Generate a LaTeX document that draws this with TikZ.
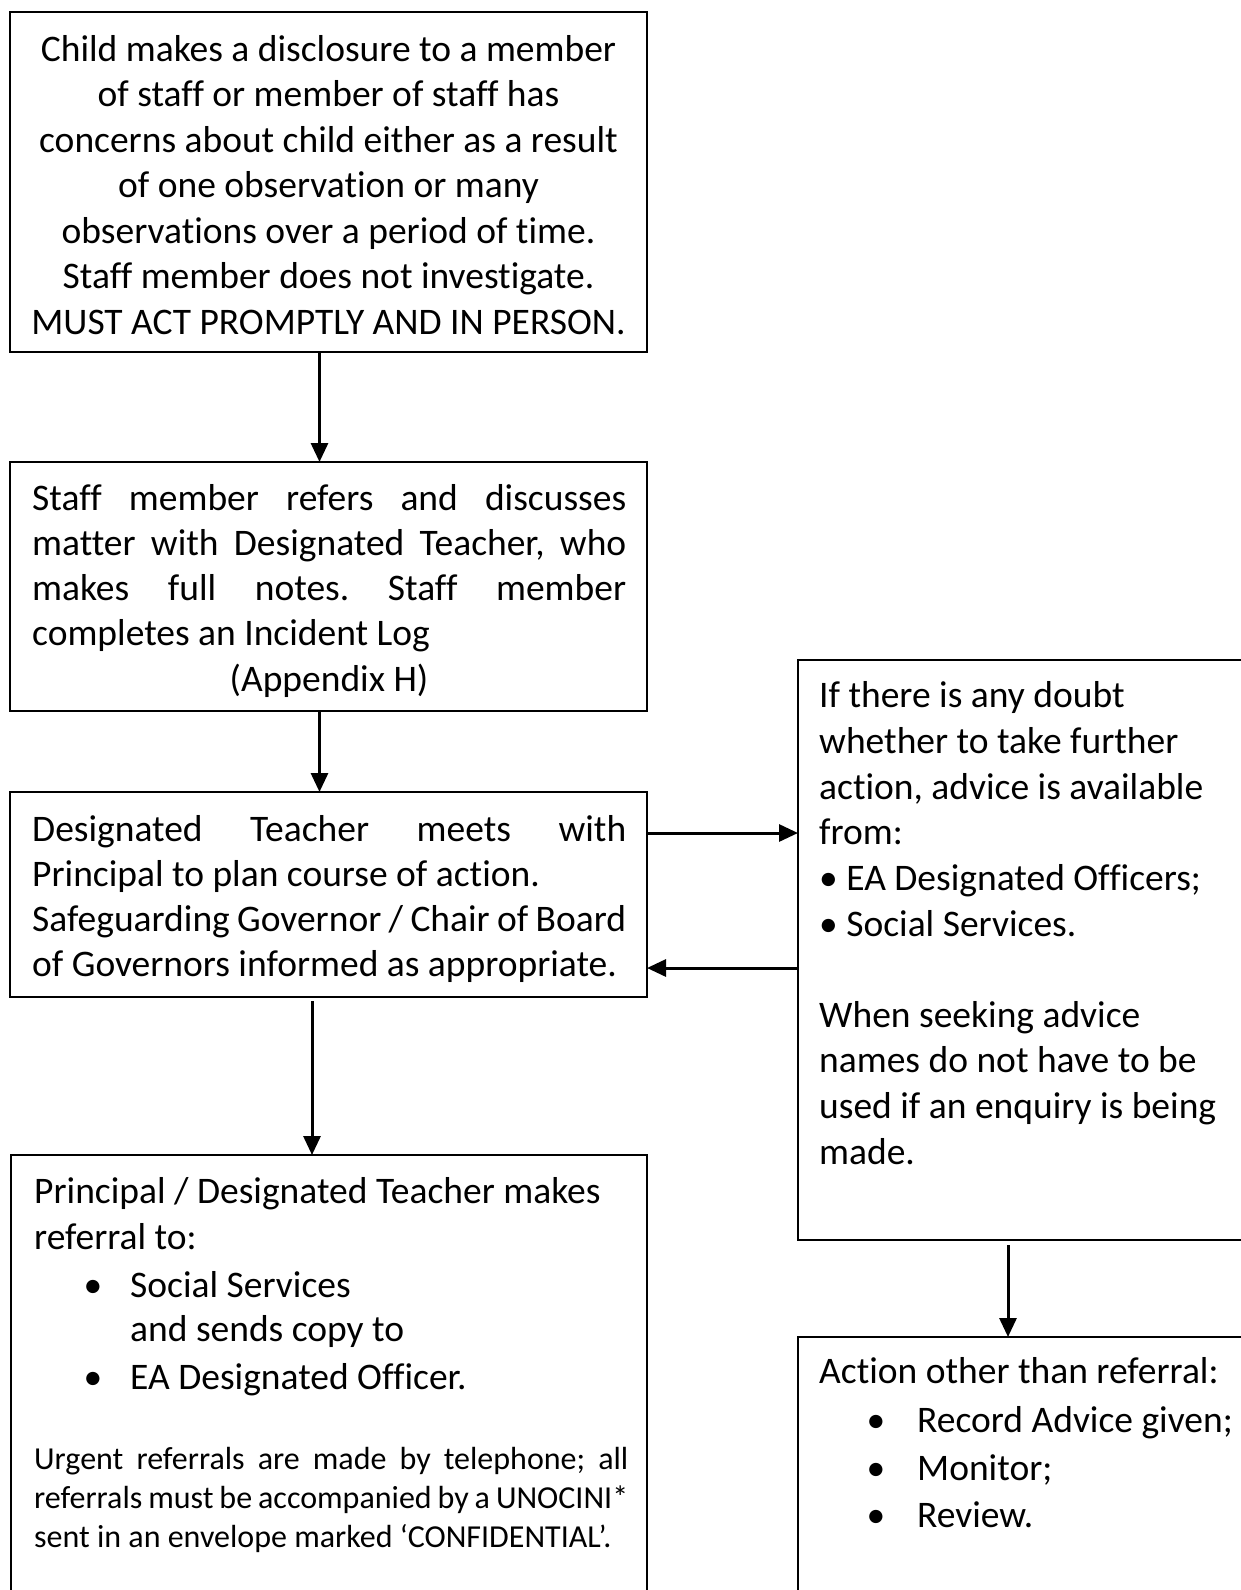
\documentclass[tikz,border=0pt]{standalone}
\usepackage{fontspec}
\setmainfont{Carlito}[Ligatures=NoCommon]
\usetikzlibrary{arrows.meta,calc}
\newcommand\fsmain{\fontsize{37.5}{45}\selectfont}
\newcommand\fssmall{\fontsize{32}{39}\selectfont}
\newcommand\jl[1]{\makebox[594pt][s]{#1}}
\frenchspacing
\begin{document}
\begin{tikzpicture}[x=1pt,y=-1pt,
  box/.style={draw, line width=1.8pt, anchor=north west, inner sep=0pt, outer sep=0pt},
  arr/.style={line width=3pt, -{Triangle[length=19pt,width=17pt]}},
  tl/.style={anchor=base west, inner sep=0pt, font=\fsmain},
  tc/.style={anchor=base, inner sep=0pt, font=\fsmain},
  ts/.style={anchor=base west, inner sep=0pt, font=\fssmall},
  bul/.style={anchor=base, inner sep=0pt, font=\fsmain}]
\useasboundingbox (0,0) rectangle (1241,1590);
\fill[white] (0,0) rectangle (1241,1590);
% boxes
\node[box, minimum width=637pt, minimum height=340pt] (b1) at (10,12) {};
\node[box, minimum width=637pt, minimum height=249pt] (b2) at (10,462) {};
\node[box, minimum width=637pt, minimum height=205pt] (b3) at (10,792) {};
\node[box, minimum width=636pt, minimum height=470pt] (b4) at (11,1155) {};
\node[box, minimum width=470pt, minimum height=580pt] (bA) at (798,660) {};
\node[box, minimum width=470pt, minimum height=290pt] (bB) at (798,1337) {};
% box 1 text
\node[tc] (t11) at (328.5,61) {Child makes a disclosure to a member};
\node[tc] (t12) at (328.5,106) {of staff or member of staff has};
\node[tc] (t13) at (328.5,152) {concerns about child either as a result};
\node[tc] (t14) at (328.5,197) {of one observation or many};
\node[tc] (t15) at (328.5,243) {observations over a period of time.};
\node[tc] (t16) at (328.5,288) {Staff member does not investigate.};
\node[tc] (t17) at (328.5,334) {MUST ACT PROMPTLY AND IN PERSON.};
% box 2 text
\node[tl] (t21) at (32,510) {\jl{Staff member refers and discusses}};
\node[tl] (t22) at (32,555) {\jl{matter with Designated Teacher, who}};
\node[tl] (t23) at (32,600) {\jl{makes full notes. Staff member}};
\node[tl] (t24) at (32,645) {completes an Incident Log};
\node[tc] (t25) at (329,691) {(Appendix H)};
% box 3 text
\node[tl] (t31) at (32,841) {\jl{Designated Teacher meets with}};
\node[tl] (t32) at (32,886) {Principal to plan course of action.};
\node[tl] (t33) at (32,931) {\jl{Safeguarding Governor / Chair of Board}};
\node[tl] (t34) at (32,976) {of Governors informed as appropriate.};
% box 4 text
\node[tl] (t41) at (34,1203) {Principal / Designated Teacher makes};
\node[tl] (t42) at (34,1249) {referral to:};
\node[bul] (u41) at (93,1297) {•};
\node[tl] (t43) at (130,1297) {Social Services};
\node[tl] (t44) at (130,1341) {and sends copy to};
\node[bul] (u42) at (93,1389) {•};
\node[tl] (t45) at (130,1389) {EA Designated Officer.};
\node[ts] (t46) at (34,1469) {\jl{Urgent referrals are made by telephone; all}};
\node[ts] (t47) at (34,1508) {\jl{referrals must be accompanied by a UNOCINI*}};
\node[ts] (t48) at (34,1547) {sent in an envelope marked ‘CONFIDENTIAL’.};
% box A text
\node[tl] (ta1) at (819,707) {If there is any doubt};
\node[tl] (ta2) at (819,753) {whether to take further};
\node[tl] (ta3) at (819,799) {action, advice is available};
\node[tl] (ta4) at (819,844) {from:};
\node[tl] (ta5) at (819,890) {• EA Designated Officers;};
\node[tl] (ta6) at (819,936) {• Social Services.};
\node[tl] (ta7) at (819,1027) {When seeking advice};
\node[tl] (ta8) at (819,1072) {names do not have to be};
\node[tl] (ta9) at (819,1118) {used if an enquiry is being};
\node[tl] (ta10) at (819,1164) {made.};
% box B text
\node[tl] (tb1) at (819,1383) {Action other than referral:};
\node[bul] (ub1) at (876,1432) {•};
\node[tl] (tb2) at (917,1432) {Record Advice given;};
\node[bul] (ub2) at (876,1480) {•};
\node[tl] (tb3) at (917,1480) {Monitor;};
\node[bul] (ub3) at (876,1527) {•};
\node[tl] (tb4) at (917,1527) {Review.};
% connectors
\coordinate (ax1) at (319.5,0);
\coordinate (ax3) at (312,0);
\coordinate (ax4) at (1008,0);
\coordinate (ay1) at (0,833);
\coordinate (ay2) at (0,968);
\draw[arr] (b1.south -| ax1) -- (b2.north -| ax1);
\draw[arr] (b2.south -| ax1) -- (b3.north -| ax1);
\draw[arr] ($(b3.south -| ax3)+(0,4)$) -- (b4.north -| ax3);
\draw[arr] (b3.east |- ay1) -- (bA.west |- ay1);
\draw[arr] (bA.west |- ay2) -- (b3.east |- ay2);
\draw[arr] ($(bA.south -| ax4)+(0,5)$) -- (bB.north -| ax4);
\end{tikzpicture}
\end{document}
